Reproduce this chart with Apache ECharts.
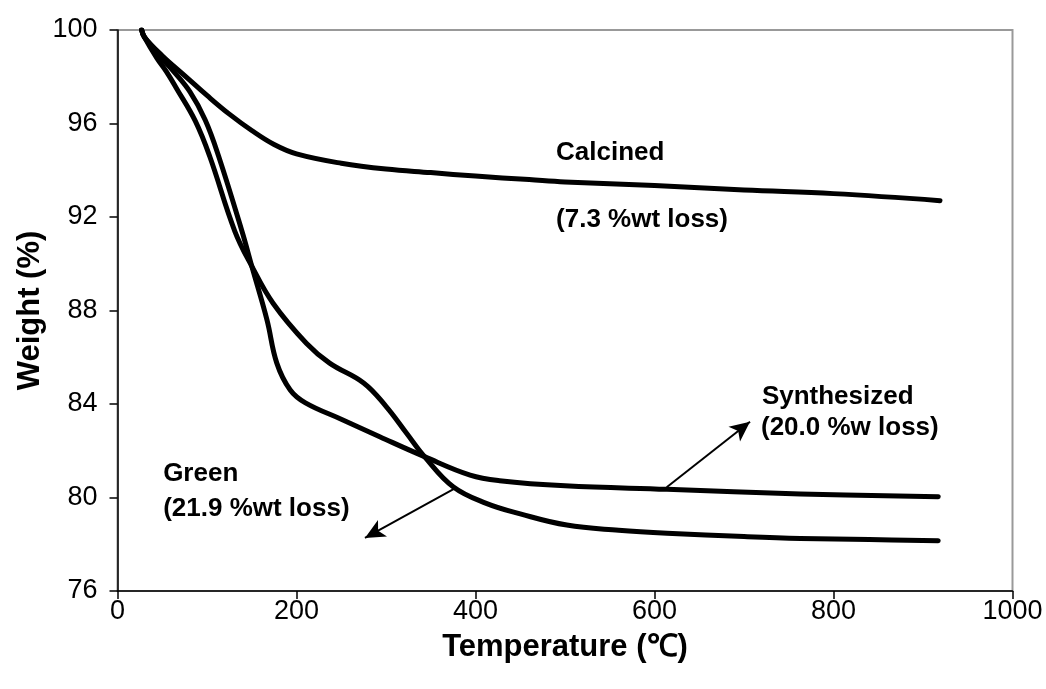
<!DOCTYPE html>
<html>
<head>
<meta charset="utf-8">
<script src="https://cdn.jsdelivr.net/npm/echarts@6/dist/echarts.min.js"></script>
<style>
  html, body { margin: 0; padding: 0; background: #fff; }
  #chart { width: 1046px; height: 689px; }
</style>
</head>
<body>
<div id="chart"></div>
<script>
// TGA curves: temperature (°C) vs remaining weight (%)
const calcinedT = [27, 30, 50, 75, 100, 125, 150, 175, 200, 250, 300, 350, 400, 460, 500, 600, 700, 800, 919];
const calcinedW = [100, 99.7, 98.9, 98.05, 97.2, 96.4, 95.7, 95.1, 94.7, 94.3, 94.05, 93.9, 93.75, 93.6, 93.5, 93.35, 93.15, 93.0, 92.7];

const synthT = [27, 30, 49, 61, 81, 98, 113, 139, 150, 167, 178, 193, 210, 250, 293, 343, 394, 427, 500, 614, 763, 917];
const synthW = [100, 99.7, 98.8, 98.3, 97.35, 96.15, 94.6, 91.4, 89.9, 87.6, 85.75, 84.6, 84.05, 83.35, 82.6, 81.75, 80.96, 80.72, 80.5, 80.35, 80.15, 80.03];

const greenT = [27, 30, 44, 55, 66, 87, 103, 131, 150, 174, 211, 237, 275, 300, 323, 343, 375, 412, 450, 502, 560, 614, 700, 763, 840, 917];
const greenW = [100, 99.7, 98.8, 98.2, 97.5, 96.1, 94.6, 91.4, 89.9, 88.3, 86.6, 85.75, 84.9, 83.9, 82.75, 81.75, 80.46, 79.75, 79.3, 78.82, 78.6, 78.47, 78.33, 78.25, 78.2, 78.15];

// Axis ticks
const xTicks = [0, 200, 400, 600, 800, 1000];
const yTicks = [76, 80, 84, 88, 92, 96, 100];

// Annotation texts, anchored in data coordinates [temperature, weight]
const notes = [
  { text: 'Calcined', at: [490, 94.75] },
  { text: '(7.3 %wt loss)', at: [490, 91.9] },
  { text: 'Synthesized', at: [720, 84.3] },
  { text: '(20.0 %w loss)', at: [719, 82.97] },
  { text: 'Green', at: [51, 81.0] },
  { text: '(21.9 %wt loss)', at: [51, 79.5] }
];

// Pointer arrows: [tail, head]
const arrows = [
  [[613.6, 80.44], [706.7, 83.24]],
  [[377, 80.39], [276.5, 78.27]]
];

const zip = (xs, ys) => xs.map((x, i) => [x, ys[i]]);
const FONT = '"Liberation Sans", Arial, Helvetica, sans-serif';

const curveStyle = { color: '#000', width: 5, cap: 'round', join: 'round' };
const titleStyle = { fontFamily: FONT, fontWeight: 'bold', fontSize: 31, color: '#000' };
const tickText = { fontFamily: FONT, fontSize: 27, color: '#000', formatter: v => String(v) };

const chart = echarts.init(document.getElementById('chart'));

chart.setOption({
  animation: false,
  backgroundColor: '#fff',
  grid: {
    left: 117.5, right: 33.5, top: 30, bottom: 98,
    show: true, borderColor: '#999', borderWidth: 2, backgroundColor: 'transparent'
  },
  xAxis: {
    type: 'value', min: xTicks[0], max: xTicks[xTicks.length - 1], interval: 200,
    name: 'Temperature (℃)', nameLocation: 'middle', nameGap: 41, nameMoveOverlap: false,
    nameTextStyle: titleStyle,
    axisLine: { show: true, onZero: false, lineStyle: { color: '#000', width: 1.5 } },
    axisTick: { show: true, inside: false, length: 8, lineStyle: { color: '#000', width: 1.5 } },
    axisLabel: Object.assign({ margin: 7 }, tickText),
    splitLine: { show: false }
  },
  yAxis: {
    type: 'value', min: yTicks[0], max: yTicks[yTicks.length - 1], interval: 4,
    name: 'Weight (%)', nameLocation: 'middle', nameGap: 72, nameRotate: 90, nameMoveOverlap: false,
    nameTextStyle: titleStyle,
    axisLine: { show: true, onZero: false, lineStyle: { color: '#000', width: 1.5 } },
    axisTick: { show: true, inside: false, length: 8, lineStyle: { color: '#000', width: 1.5 } },
    axisLabel: Object.assign({ margin: 20 }, tickText),
    splitLine: { show: false }
  },
  series: [
    {
      name: 'Calcined', type: 'line', data: zip(calcinedT, calcinedW),
      showSymbol: false, smooth: 0.4, lineStyle: curveStyle
    },
    {
      name: 'Synthesized', type: 'line', data: zip(synthT, synthW),
      showSymbol: false, smooth: 0.4, lineStyle: curveStyle
    },
    {
      name: 'Green', type: 'line', data: zip(greenT, greenW),
      showSymbol: false, smooth: 0.4, lineStyle: curveStyle,
      markLine: {
        silent: true, symbol: ['none', 'arrow'], symbolSize: [14, 20],
        label: { show: false },
        lineStyle: { color: '#000', width: 2, type: 'solid' },
        data: arrows.map(a => [{ coord: a[0] }, { coord: a[1] }])
      }
    }
  ]
});

// Annotation texts, placed through the chart's own coordinate conversion
chart.setOption({
  graphic: notes.map(n => {
    const p = chart.convertToPixel({ gridIndex: 0 }, n.at);
    return {
      type: 'text', x: p[0], y: p[1], silent: true,
      style: {
        text: n.text, fill: '#000', fontFamily: FONT, fontWeight: 'bold', fontSize: 26,
        align: 'left', verticalAlign: 'middle'
      }
    };
  })
});
</script>
</body>
</html>
